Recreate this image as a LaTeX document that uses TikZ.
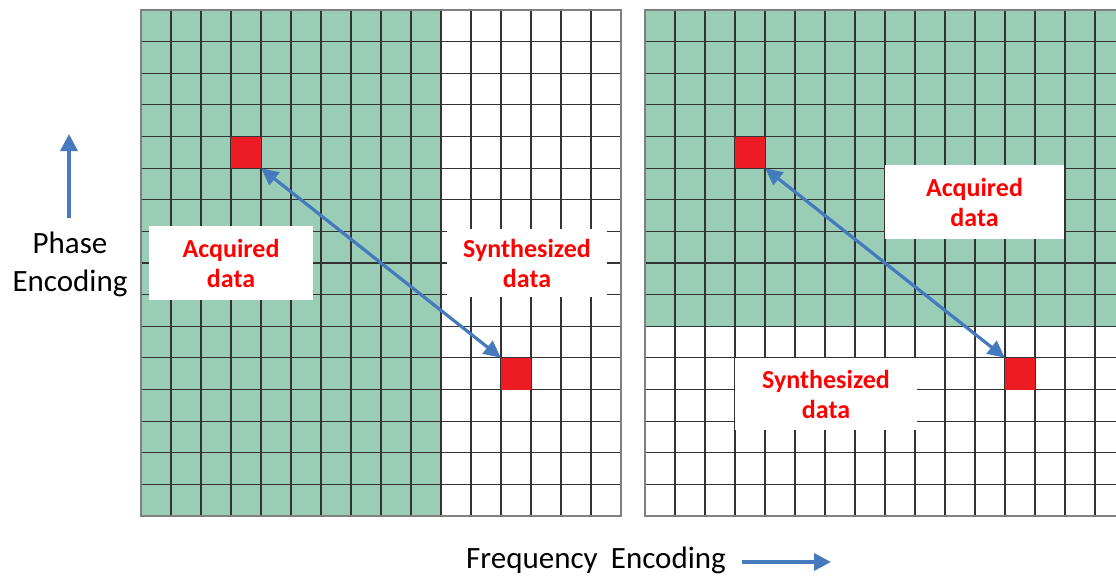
\documentclass[tikz,border=0pt]{standalone}
\usepackage{fontspec}
\setmainfont{Carlito}
\usetikzlibrary{arrows.meta}
\definecolor{gfill}{RGB}{153,205,181}
\definecolor{redsq}{RGB}{237,28,36}
\definecolor{arrblue}{RGB}{70,122,190}
\tikzset{
  gridline/.style={draw=black!80, line width=1.2pt},
  border/.style={draw=black!50, line width=1.6pt},
  redbox/.style={fill=redsq, draw=none, minimum width=30pt, minimum height=31.6pt, inner sep=0pt},
  labelbox/.style={fill=white, draw=none, inner sep=0pt, align=center, text=red,
    font=\bfseries\fontsize{26}{30}\selectfont},
  axislabel/.style={inner sep=0pt, align=center, font=\fontsize{31}{38}\selectfont},
  bluearrow/.style={draw=arrblue, line width=3.4pt, -{Triangle[length=17pt,width=17pt]}},
  dblarrow/.style={draw=arrblue, line width=3.2pt, {Triangle[length=17pt,width=16pt]}-{Triangle[length=17pt,width=16pt]}}
}
\begin{document}
\begin{tikzpicture}[x=1pt,y=-1pt]
\useasboundingbox (0,0) rectangle (1116,578);
\fill[white] (0,0) rectangle (1116,578);
\begin{scope}
\clip (0,0) rectangle (1116,578);
% left grid
\fill[gfill] (141,10) rectangle (441,516);
\foreach \i in {1,...,15} \draw[gridline] (141+30*\i,10) -- (141+30*\i,516);
\foreach \j in {1,...,15} \draw[gridline] (141,10+31.625*\j) -- (621,10+31.625*\j);
\draw[border] (141,10) rectangle (621,516);
% right grid
\fill[gfill] (645,10) rectangle (1125,326);
\foreach \i in {1,...,15} \draw[gridline] (645+30*\i,10) -- (645+30*\i,516);
\foreach \j in {1,...,15} \draw[gridline] (645,10+31.625*\j) -- (1125,10+31.625*\j);
\draw[border] (645,10) rectangle (1125,516);
\end{scope}
% red squares
\node[redbox] (la) at (246,152.3) {};
\node[redbox] (lb) at (516,373.7) {};
\node[redbox] (ra) at (750,152.3) {};
\node[redbox] (rb) at (1020,373.7) {};
% labels
\node[labelbox, minimum width=164pt, minimum height=74pt] (lacq) at (231,263) {Acquired\\data};
\node[labelbox, minimum width=160pt, minimum height=68pt] (lsyn) at (527,263) {Synthesized\\data};
\node[labelbox, minimum width=179pt, minimum height=74pt] (racq) at (974.5,202) {Acquired\\data};
\node[labelbox, minimum width=182pt, minimum height=72pt] (rsyn) at (826,394) {Synthesized\\data};
% double arrows
\draw[dblarrow] (la.south east) -- (lb.north west);
\draw[dblarrow] (ra.south east) -- (rb.north west);
% axis labels
\node[axislabel] (phase) at (70,264) {Phase\\Encoding};
\coordinate (pa) at (69,218);
\coordinate (pb) at (69,134);
\draw[bluearrow] (pa) -- (pb);
\node[axislabel] (freq) at (596,560) {Frequency\hspace{0.2em} Encoding};
\coordinate (fa) at (742,562);
\coordinate (fb) at (831,562);
\draw[bluearrow] (fa) -- (fb);
\end{tikzpicture}
\end{document}
